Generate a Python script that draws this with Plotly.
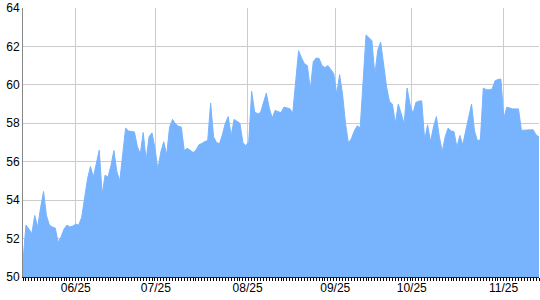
import plotly.graph_objects as go

values = [
    50.8, 52.7, 52.5, 52.25, 53.2, 52.6, 53.6, 54.45, 53.2, 52.7,
    52.6, 52.55, 51.8, 52.1, 52.5, 52.7, 52.6, 52.65, 52.75, 52.7,
    53.1, 54.2, 55.1, 55.75, 55.2, 55.9, 56.6, 54.3, 55.3, 55.2,
    55.8, 56.58, 55.5, 55.0, 56.5, 57.75, 57.6, 57.57, 57.55, 56.8,
    56.4, 57.52, 56.1, 57.3, 57.5, 56.7, 55.6, 56.5, 57.04, 56.36,
    57.8, 58.2, 57.97, 57.85, 57.8, 56.58, 56.7, 56.6, 56.48, 56.6,
    56.88, 56.95, 57.05, 57.1, 59.05, 57.3, 57.0, 56.93, 57.4, 58.0,
    58.35, 57.35, 58.2, 58.1, 58.0, 57.0, 56.83, 57.05, 59.66, 58.6,
    58.5, 58.55, 59.0, 59.57, 58.8, 58.27, 58.67, 58.6, 58.55, 58.84,
    58.8, 58.76, 58.53, 60.2, 61.78, 61.4, 61.1, 61.0, 59.75, 61.2,
    61.4, 61.37, 61.0, 60.9, 61.0, 60.8, 60.58, 59.54, 60.53, 59.5,
    58.0, 56.97, 57.2, 57.6, 57.87, 57.75, 60.5, 62.6, 62.45, 62.31,
    60.53, 61.8, 62.23, 60.96, 59.9, 59.14, 59.0, 58.0, 59.0, 58.5,
    57.97, 59.83, 59.0, 58.5, 59.08, 59.15, 59.17, 57.14, 57.92, 57.05,
    57.8, 58.35, 57.3, 56.53, 57.3, 57.75, 57.6, 57.57, 56.76, 57.37,
    56.88, 57.6, 58.4, 59.0, 57.6, 57.09, 57.14, 59.83, 59.75, 59.74,
    59.78, 60.21, 60.28, 60.3, 58.27, 58.84, 58.8, 58.75, 58.75, 58.75,
    57.63, 57.65, 57.66, 57.66, 57.66, 57.4, 57.28,
]
x_index = list(range(len(values)))

tick_positions = [18, 45.3, 76.6, 106.5, 132.6, 163.9]
tick_labels = ["06/25", "07/25", "08/25", "09/25", "10/25", "11/25"]
y_ticks = [50, 52, 54, 56, 58, 60, 62, 64]

fig = go.Figure()
fig.add_trace(go.Scatter(
    x=x_index, y=values, mode="lines", fill="tozeroy",
    line=dict(color="#78b4fe", width=1, shape="linear"),
    fillcolor="#78b4fe", hoverinfo="skip",
))

fig.update_layout(
    width=540, height=300,
    margin=dict(l=23, r=1, t=8, b=23),
    paper_bgcolor="white", plot_bgcolor="white",
    showlegend=False,
    font=dict(family="Liberation Sans, Arial, sans-serif", size=12, color="black"),
)
fig.update_xaxes(
    range=[0, len(values) - 1],
    tickmode="array", tickvals=tick_positions, ticktext=tick_labels,
    ticks="", showgrid=True, gridcolor="#cccccc", gridwidth=1,
    showline=True, linecolor="#222222", linewidth=1,
    zeroline=False,
    minor=dict(ticks="outside", ticklen=3, tickcolor="black", tickwidth=1,
               dtick=1, tick0=0, showgrid=False),
    tickfont=dict(size=12, color="black"),
)
fig.update_yaxes(
    range=[50, 64],
    tickmode="array", tickvals=y_ticks, ticktext=[str(v) for v in y_ticks],
    ticks="", showgrid=True, gridcolor="#cccccc", gridwidth=1,
    showline=True, linecolor="#888888", linewidth=1,
    zeroline=False,
    tickfont=dict(size=12, color="black"),
)

fig.write_html("out.html")
